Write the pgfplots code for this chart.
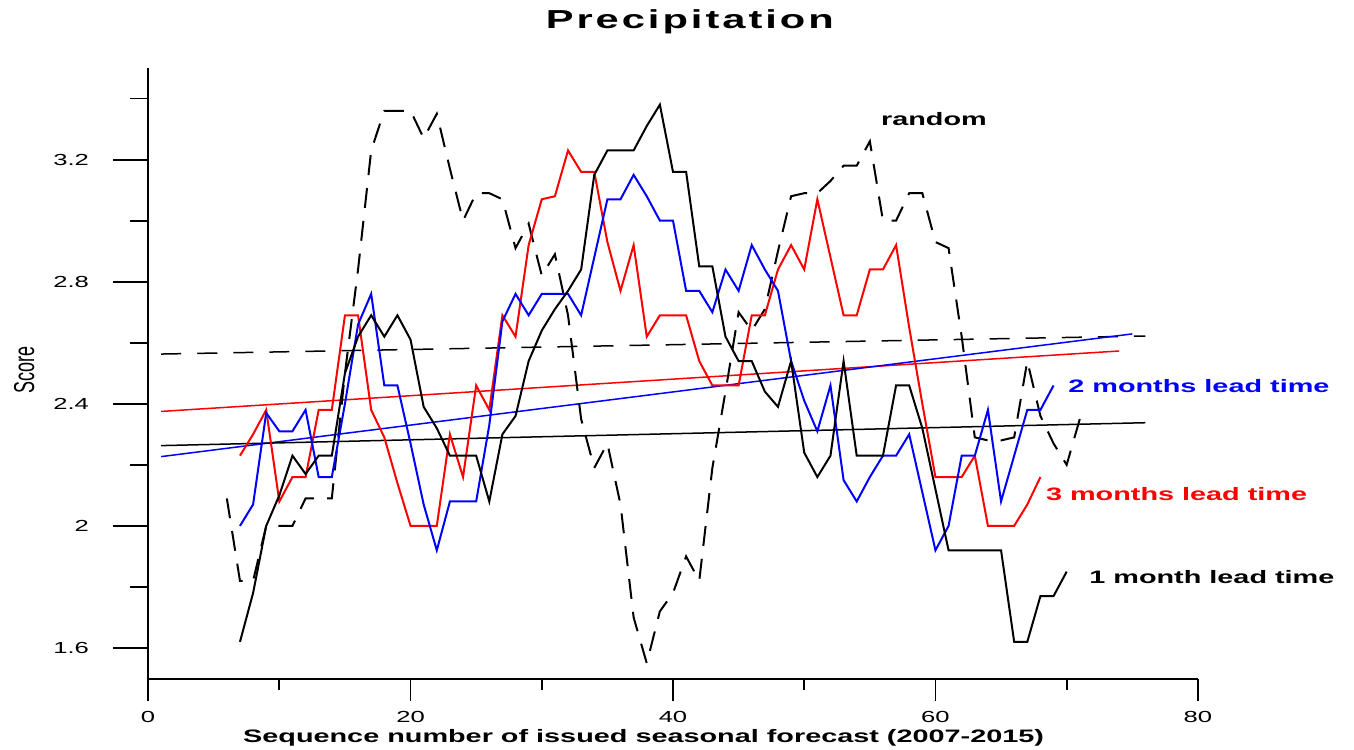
\documentclass[border=0pt]{standalone}
\usepackage{fontspec}
\setmainfont{Liberation Sans}[FakeStretch=1.6]
\newfontfamily\plainfont{Liberation Sans}
\newfontfamily\titlefont{Liberation Sans}[FakeStretch=1.6,LetterSpace=11.5]
\usepackage{graphicx}
\usepackage{pgfplots}
\usepackage{pgfplotstable}
\pgfplotsset{compat=1.18}

% 1 month lead time
\pgfplotstableread{
k s
7 1.62
8 1.78
9 2.00
10 2.10
11 2.23
12 2.17
13 2.23
14 2.23
15 2.50
16 2.62
17 2.69
18 2.62
19 2.69
20 2.61
21 2.39
22 2.32
23 2.23
24 2.23
25 2.23
26 2.08
27 2.30
28 2.36
29 2.54
30 2.64
31 2.71
32 2.77
33 2.84
34 3.15
35 3.23
36 3.23
37 3.23
38 3.31
39 3.38
40 3.16
41 3.16
42 2.85
43 2.85
44 2.62
45 2.54
46 2.54
47 2.44
48 2.39
49 2.54
50 2.24
51 2.16
52 2.23
53 2.54
54 2.23
55 2.23
56 2.23
57 2.46
58 2.46
59 2.32
60 2.12
61 1.92
62 1.92
63 1.92
64 1.92
65 1.92
66 1.62
67 1.62
68 1.77
69 1.77
70 1.85
}\onemonth

% 2 months lead time
\pgfplotstableread{
k s
7 2.00
8 2.07
9 2.37
10 2.31
11 2.31
12 2.38
13 2.16
14 2.16
15 2.40
16 2.66
17 2.76
18 2.46
19 2.46
20 2.27
21 2.07
22 1.92
23 2.08
24 2.08
25 2.08
26 2.33
27 2.67
28 2.76
29 2.69
30 2.76
31 2.76
32 2.76
33 2.69
34 2.88
35 3.07
36 3.07
37 3.15
38 3.08
39 3.00
40 3.00
41 2.77
42 2.77
43 2.70
44 2.84
45 2.77
46 2.92
47 2.84
48 2.77
49 2.54
50 2.41
51 2.31
52 2.46
53 2.15
54 2.08
55 2.16
56 2.23
57 2.23
58 2.30
59 2.11
60 1.92
61 2.00
62 2.23
63 2.23
64 2.38
65 2.08
66 2.23
67 2.38
68 2.38
69 2.46
}\twomonths

% 3 months lead time
\pgfplotstableread{
k s
7 2.23
8 2.30
9 2.38
10 2.08
11 2.16
12 2.16
13 2.38
14 2.38
15 2.69
16 2.69
17 2.38
18 2.29
19 2.14
20 2.00
21 2.00
22 2.00
23 2.30
24 2.16
25 2.46
26 2.38
27 2.69
28 2.62
29 2.92
30 3.07
31 3.08
32 3.23
33 3.16
34 3.16
35 2.93
36 2.77
37 2.92
38 2.62
39 2.69
40 2.69
41 2.69
42 2.54
43 2.46
44 2.46
45 2.46
46 2.69
47 2.69
48 2.84
49 2.92
50 2.84
51 3.07
52 2.88
53 2.69
54 2.69
55 2.84
56 2.84
57 2.92
58 2.65
59 2.40
60 2.16
61 2.16
62 2.16
63 2.23
64 2.00
65 2.00
66 2.00
67 2.07
68 2.16
}\threemonths

% random forecast
\pgfplotstableread{
k s
6 2.09
7 1.82
8 1.82
9 2.00
10 2.00
11 2.00
12 2.09
13 2.09
14 2.09
15 2.50
16 2.84
17 3.23
18 3.36
19 3.36
20 3.36
21 3.27
22 3.35
23 3.17
24 3.00
25 3.09
26 3.09
27 3.07
28 2.91
29 2.99
30 2.82
31 2.89
32 2.69
33 2.35
34 2.19
35 2.27
36 2.07
37 1.70
38 1.55
39 1.72
40 1.78
41 1.90
42 1.82
43 2.19
44 2.44
45 2.70
46 2.64
47 2.71
48 2.90
49 3.08
50 3.09
51 3.09
52 3.13
53 3.18
54 3.18
55 3.26
56 3.00
57 3.00
58 3.09
59 3.09
60 2.93
61 2.91
62 2.62
63 2.29
64 2.28
65 2.28
66 2.29
67 2.54
68 2.36
69 2.27
70 2.20
71 2.35
}\random

\pgfplotsset{
    frame/.style={
        scale only axis,
        width=524.5pt, height=305pt,
        xmin=0, xmax=80, ymin=1.5, ymax=3.5,
        clip=false,
        tick align=outside,
        every tick/.style={black, line width=0.9pt},
        axis line style={line width=1pt, -},
        /pgf/number format/assume math mode=true,
        tick label style={font=\fontsize{8}{9}\selectfont},
    },
}

\begin{document}
\begin{tikzpicture}
% y ticks are longer than x ticks, so they get an axis of their own
\begin{axis}[
    frame,
    hide x axis,
    axis y line*=left, ytick pos=left,
    ytick={1.6,2.0,2.4,2.8,3.2},
    minor ytick={1.8,2.2,2.6,3.0,3.4},
    major tick length=17.5pt, minor tick length=9pt,
    yticklabel style={xshift=-8.5pt},
]
\end{axis}
\begin{axis}[
    frame,
    axis x line*=bottom, axis y line*=left,
    xtick pos=bottom, ytick=\empty,
    major tick length=11pt, minor tick length=5.5pt,
    xtick={0,20,40,60,80}, minor x tick num=1,
    xticklabel style={yshift=-2pt},
    title={Precipitation},
    every axis title shift=0pt,
    title style={at={(axis description cs:0.516,1.075)}, anchor=center,
        font=\titlefont\bfseries\fontsize{13}{15}\selectfont},
    xlabel={Sequence number of issued seasonal forecast (2007-2015)},
    xlabel style={at={(axis description cs:0.472,-0.098)}, anchor=center,
        font=\bfseries\fontsize{9}{10}\selectfont},
    ylabel={\scalebox{1}[1.6]{Score}},
    ylabel style={at={(axis description cs:-0.118,0.505)}, anchor=center,
        font=\plainfont\fontsize{9}{10}\selectfont},
]
% trend lines
\addplot[black, line width=0.75pt, dash pattern=on 10pt off 8pt] coordinates {(1,2.563) (76,2.622)};
\addplot[red, line width=0.75pt] coordinates {(1,2.375) (74,2.573)};
\addplot[blue, line width=0.75pt] coordinates {(1,2.227) (75,2.629)};
\addplot[black, line width=0.75pt] coordinates {(1,2.263) (76,2.338)};
% scores
\addplot[black, line width=1pt, dash pattern=on 10pt off 6.5pt] table[x=k, y=s] {\random};
\addplot[red, line width=1pt] table[x=k, y=s] {\threemonths};
\addplot[blue, line width=1pt] table[x=k, y=s] {\twomonths};
\addplot[black, line width=1pt] table[x=k, y=s] {\onemonth};
% labels
\node[anchor=west, inner sep=0pt, font=\bfseries\fontsize{9}{10}\selectfont] at (axis cs:55.83,3.334) {random};
\node[anchor=west, inner sep=0pt, blue, font=\bfseries\fontsize{9}{10}\selectfont] at (axis cs:70.1,2.459) {2 months lead time};
\node[anchor=west, inner sep=0pt, red, font=\bfseries\fontsize{9}{10}\selectfont] at (axis cs:68.4,2.103) {3 months lead time};
\node[anchor=west, inner sep=0pt, font=\bfseries\fontsize{9}{10}\selectfont] at (axis cs:71.7,1.832) {1 month lead time};
\end{axis}
\pgfresetboundingbox
\path[use as bounding box] (-74pt,-35.5pt) rectangle (602.5pt,339pt);
\end{tikzpicture}
\end{document}
